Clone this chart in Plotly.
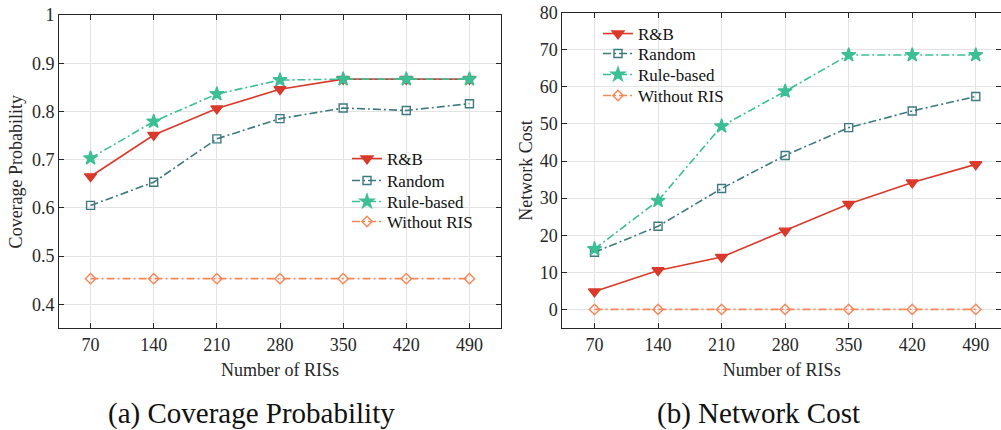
import plotly.graph_objects as go

x_ris = [70, 140, 210, 280, 350, 420, 490]
series_names = ["R&B", "Random", "Rule-based", "Without RIS"]

cov_rb = [0.665, 0.751, 0.806, 0.846, 0.867, 0.867, 0.867]
cov_random = [0.605, 0.653, 0.743, 0.785, 0.807, 0.802, 0.816]
cov_rule = [0.703, 0.779, 0.836, 0.865, 0.867, 0.867, 0.867]
cov_without = [0.453, 0.453, 0.453, 0.453, 0.453, 0.453, 0.453]

cost_rb = [4.8, 10.5, 14.1, 21.2, 28.4, 34.2, 39.1]
cost_random = [15.4, 22.4, 32.6, 41.5, 49.0, 53.5, 57.4]
cost_rule = [16.3, 29.3, 49.4, 58.8, 68.6, 68.6, 68.6]
cost_without = [0, 0, 0, 0, 0, 0, 0]

W, H = 1001, 430
FONT = "Liberation Serif, Times New Roman, Times, serif"
TXT = "#262626"

styles = [
    dict(color="#d93a2b", dash="solid", symbol="triangle-down", size=10.5),
    dict(color="#3d7a80", dash="8px,3px,2px,3px", symbol="square-open", size=8),
    dict(color="#3dbf96", dash="8px,3px,2px,3px", symbol="star", size=10.5),
    dict(color="#f7875a", dash="8px,3px,2px,3px", symbol="diamond-open", size=8),
]


def px_x(p):
    return p / W


def px_y(p):
    return 1 - p / H


fig = go.Figure()

legend_layout = {}


def add_series(ys, xa, ya, legend_ids, legend_x, row_ys):
    for name, y, st, lid, ry in zip(series_names, ys, styles, legend_ids, row_ys):
        fig.add_trace(go.Scatter(
            x=x_ris, y=y, name=name, mode="lines+markers",
            xaxis=xa, yaxis=ya, legend=lid, showlegend=True,
            line=dict(color=st["color"], width=1.6, dash=st["dash"]),
            marker=dict(symbol=st["symbol"], size=st["size"], color=st["color"],
                        line=dict(color=st["color"], width=1.4)),
        ))
        legend_layout[lid] = dict(
            x=px_x(legend_x), y=px_y(ry), xanchor="left", yanchor="middle",
            bgcolor="rgba(0,0,0,0)", borderwidth=0, visible=True,
            font=dict(family=FONT, size=17, color="#111111"),
        )


add_series([cov_rb, cov_random, cov_rule, cov_without], "x", "y",
           ["legend", "legend2", "legend3", "legend4"], 347, [159, 181, 202, 222])
add_series([cost_rb, cost_random, cost_rule, cost_without], "x2", "y2",
           ["legend5", "legend6", "legend7", "legend8"], 598, [34, 54, 75, 96])

axis_common = dict(
    showline=True, linecolor=TXT, linewidth=1, mirror="ticks",
    ticks="inside", ticklen=5, tickcolor=TXT, tickwidth=1,
    showgrid=True, gridcolor="#e3e3e3", gridwidth=1, zeroline=False,
    automargin=False,
    tickfont=dict(family=FONT, size=18, color=TXT),
    title_font=dict(family=FONT, size=18, color=TXT),
)

fig.update_layout(
    template="none",
    showlegend=True,
    width=W, height=H,
    margin=dict(l=0, r=0, t=0, b=0, pad=0),
    paper_bgcolor="white", plot_bgcolor="white",
    font=dict(family=FONT, color=TXT),
    xaxis=dict(domain=[px_x(59), px_x(501)], range=[35, 525],
               tickvals=x_ris, ticktext=[str(v) for v in x_ris],
               title=dict(text="Number of RISs", standoff=9), anchor="y", **axis_common),
    yaxis=dict(domain=[px_y(328.3), px_y(15)], range=[0.35, 1.0],
               tickvals=[0.4, 0.5, 0.6, 0.7, 0.8, 0.9, 1.0],
               ticktext=["0.4", "0.5", "0.6", "0.7", "0.8", "0.9", "1"],
               title=dict(text="Coverage Probability", standoff=4), anchor="x", **axis_common),
    xaxis2=dict(domain=[px_x(562.3), 1.0], range=[34.5, 517.8],
                tickvals=x_ris, ticktext=[str(v) for v in x_ris],
                title=dict(text="Number of RISs", standoff=9), anchor="y2", **axis_common),
    yaxis2=dict(domain=[px_y(328.3), px_y(12.7)], range=[-5.1, 80],
                tickvals=[0, 10, 20, 30, 40, 50, 60, 70, 80],
                title=dict(text="Network Cost", standoff=2), anchor="x2", **axis_common),
    annotations=[
        dict(text="(a) Coverage Probability", x=px_x(251), y=px_y(413),
             xref="paper", yref="paper", xanchor="center", yanchor="middle",
             showarrow=False, font=dict(family=FONT, size=29, color="#111111")),
        dict(text="(b) Network Cost", x=px_x(758), y=px_y(413),
             xref="paper", yref="paper", xanchor="center", yanchor="middle",
             showarrow=False, font=dict(family=FONT, size=29, color="#111111")),
    ],
    **legend_layout,
)

fig.write_html("out.html")
